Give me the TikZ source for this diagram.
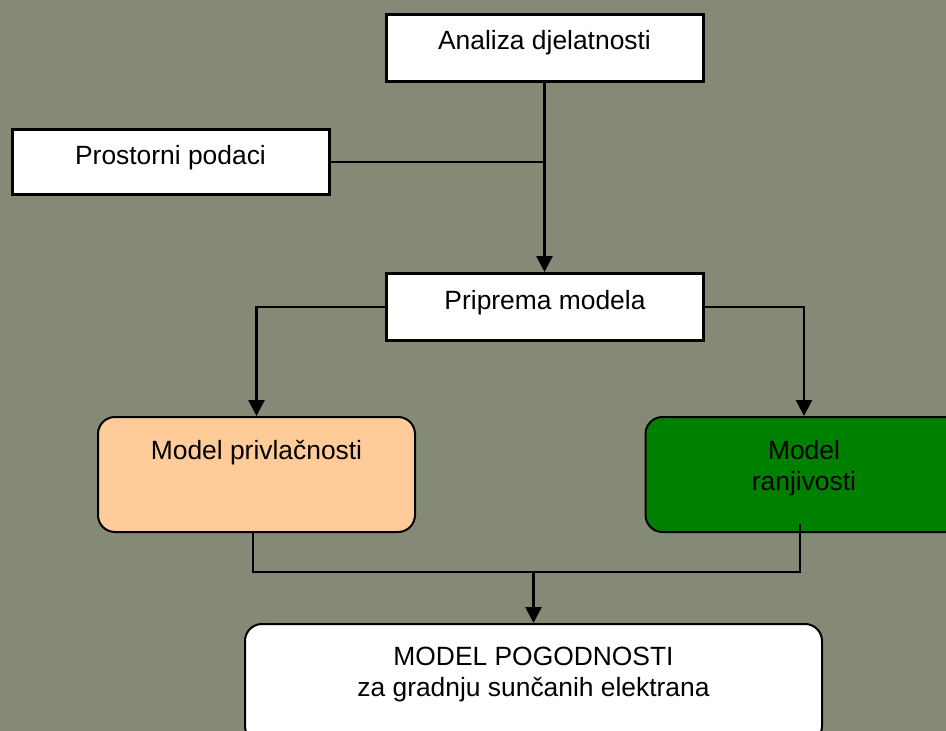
\documentclass[tikz,border=0pt]{standalone}
\usepackage{fontspec}
\setmainfont{Liberation Sans}
\usetikzlibrary{arrows.meta,calc}
\definecolor{bg}{HTML}{858A77}
\definecolor{peach}{HTML}{FFCC99}
\definecolor{dgreen}{HTML}{008000}
\begin{document}
\begin{tikzpicture}[x=1pt,y=-1pt,
  every node/.style={font=\fontsize{26.4}{31}\selectfont, inner sep=0pt},
  sqbox/.style={draw=black, line width=3pt, fill=white, minimum width=317pt, anchor=north},
  rbox/.style={draw=black, line width=2pt, rounded corners=17pt, minimum width=317pt, anchor=north},
  conn/.style={line width=2.7pt, draw=black},
  arr/.style={conn, -{Triangle[length=16pt,width=16pt]}}]

\useasboundingbox (0,0) rectangle (946,731);
\fill[bg] (0,0) rectangle (946,731);
\clip (0,0) rectangle (946,731);

\node[sqbox, text height=35.5pt, text depth=32pt] (ana) at (544.5,12.5) {Analiza djelatnosti};
\node[sqbox, text height=35pt, text depth=30pt] (pro) at (170.5,128) {Prostorni podaci};
\node[sqbox, text height=36pt, text depth=31pt] (pri) at (545,272) {Priprema modela};
\node[rbox, fill=peach, text height=42pt, text depth=73pt] (mp) at (256.5,416) {Model privlačnosti};
\node[rbox, fill=dgreen, text height=42pt, text depth=73pt] (mr) at (804,416)
  {\begin{tabular}[t]{@{}c@{}}Model\\ranjivosti\end{tabular}};
\node[rbox, fill=white, minimum width=577pt, text height=41pt, text depth=78pt] (mpg) at (533.5,623)
  {\begin{tabular}[t]{@{}c@{}}MODEL POGODNOSTI\\za gradnju sunčanih elektrana\end{tabular}};

\draw[arr] (ana.south) -- (ana.south |- pri.north);
\draw[conn] (pro.east) -- (pro.east -| ana.south);
\draw[arr] (pri.west) -| (mp.north);
\draw[arr] (pri.east) -| (mr.north);

\coordinate (jl) at ($(mp.south)+(-3.5,0)$);
\coordinate (jr) at ($(mr.south)+(-4,-9)$);
\coordinate (jm) at ($(mpg.north)+(0,-51)$);
\draw[conn] (jl) |- (jm) -| (jr);
\draw[arr] (jm) -- (mpg.north);
\end{tikzpicture}
\end{document}
